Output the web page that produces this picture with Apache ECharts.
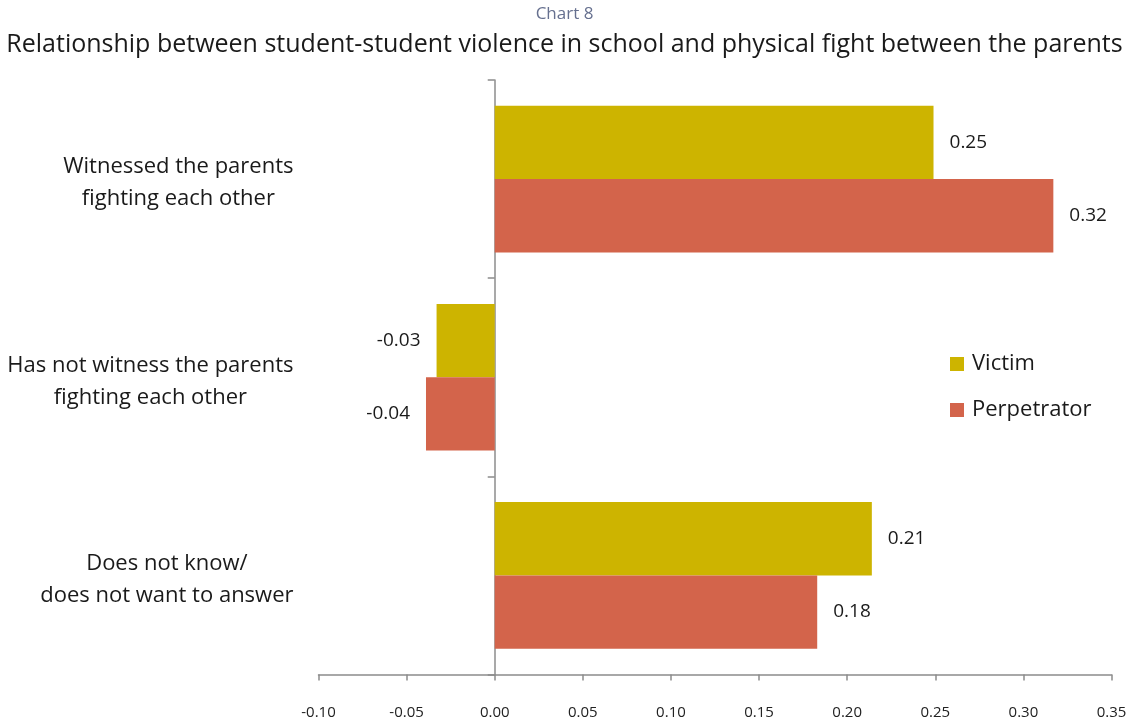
<!DOCTYPE html>
<html>
<head>
<meta charset="utf-8">
<script src="https://cdn.jsdelivr.net/npm/echarts@6/dist/echarts.min.js"></script>
<style>
  html, body { margin: 0; padding: 0; background: #fff; }
  #chart { width: 1129px; height: 726px; }
</style>
</head>
<body>
<div id="chart"></div>
<script>
// Categories listed top to bottom (y axis is inverted)
const categories = [
  'Witnessed the parents\nfighting each other',
  'Has not witness the parents\nfighting each other',
  'Does not know/\ndoes not want to answer'
];
const victim = [0.249, -0.033, 0.214];
const perpetrator = [0.317, -0.039, 0.183];
const xTicks = { min: -0.10, max: 0.35, interval: 0.05 };

const FONT = '"Open Sans", "Noto Sans", sans-serif';
const chart = echarts.init(document.getElementById('chart'));

function barLabel() {
  return {
    show: true,
    position: 'right',
    distance: 16,
    fontFamily: FONT,
    fontSize: 19,
    color: '#1a1a1a',
    formatter: p => p.value.toFixed(2)
  };
}

function seriesData(values) {
  return values.map(v => ({
    value: v,
    label: v < 0 ? { position: 'left' } : undefined
  }));
}

chart.setOption({
  animation: false,
  textStyle: { fontFamily: FONT },
  title: [
    {
      text: 'Chart 8',
      left: 'center',
      top: 1,
      textStyle: { fontFamily: FONT, fontSize: 17, fontWeight: 'normal', color: '#66708f' }
    },
    {
      text: 'Relationship between student-student violence in school and physical fight between the parents',
      left: 'center',
      top: 27,
      textStyle: { fontFamily: FONT, fontSize: 25, fontWeight: 'normal', color: '#1a1a1a' }
    }
  ],
  legend: {
    orient: 'vertical',
    left: 945,
    top: 348,
    itemWidth: 14,
    itemHeight: 14,
    itemGap: 24,
    icon: 'rect',
    textStyle: { fontFamily: FONT, fontSize: 22, color: '#1a1a1a', padding: [0, 0, 0, 3] },
    data: ['Victim', 'Perpetrator']
  },
  grid: { left: 318.5, right: 17.5, top: 80, bottom: 51.5, containLabel: false, outerBoundsMode: 'none' },
  xAxis: {
    type: 'value',
    min: xTicks.min,
    max: xTicks.max,
    interval: xTicks.interval,
    axisLine: { show: true, lineStyle: { color: '#8c8c8c', width: 1.5 } },
    axisTick: { show: true, length: 6, lineStyle: { color: '#8c8c8c', width: 1.5 } },
    splitLine: { show: false },
    axisLabel: {
      fontFamily: FONT,
      fontSize: 15,
      color: '#222',
      margin: 31,
      formatter: v => v.toFixed(2)
    }
  },
  yAxis: {
    type: 'category',
    inverse: true,
    data: categories,
    axisLine: { show: true, onZero: true, lineStyle: { color: '#8c8c8c', width: 1.5 } },
    axisTick: { show: true, length: 7, lineStyle: { color: '#8c8c8c', width: 1.5 } },
    axisLabel: {
      margin: 25,
      padding: [8, 0, 0, 0],
      fontFamily: FONT,
      fontSize: 22,
      color: '#1a1a1a',
      lineHeight: 32,
      formatter: v => v.split('\n').map(s => '{c|' + s + '}').join('\n'),
      rich: { c: { align: 'center', fontFamily: FONT, fontSize: 22, lineHeight: 32, color: '#1a1a1a' } }
    }
  },
  series: [
    {
      name: 'Victim',
      type: 'bar',
      data: seriesData(victim),
      barCategoryGap: '26%',
      barGap: '0%',
      itemStyle: { color: '#cdb400' },
      label: barLabel()
    },
    {
      name: 'Perpetrator',
      type: 'bar',
      data: seriesData(perpetrator),
      barCategoryGap: '26%',
      barGap: '0%',
      itemStyle: { color: '#d3644b' },
      label: barLabel()
    }
  ]
});
</script>
</body>
</html>
